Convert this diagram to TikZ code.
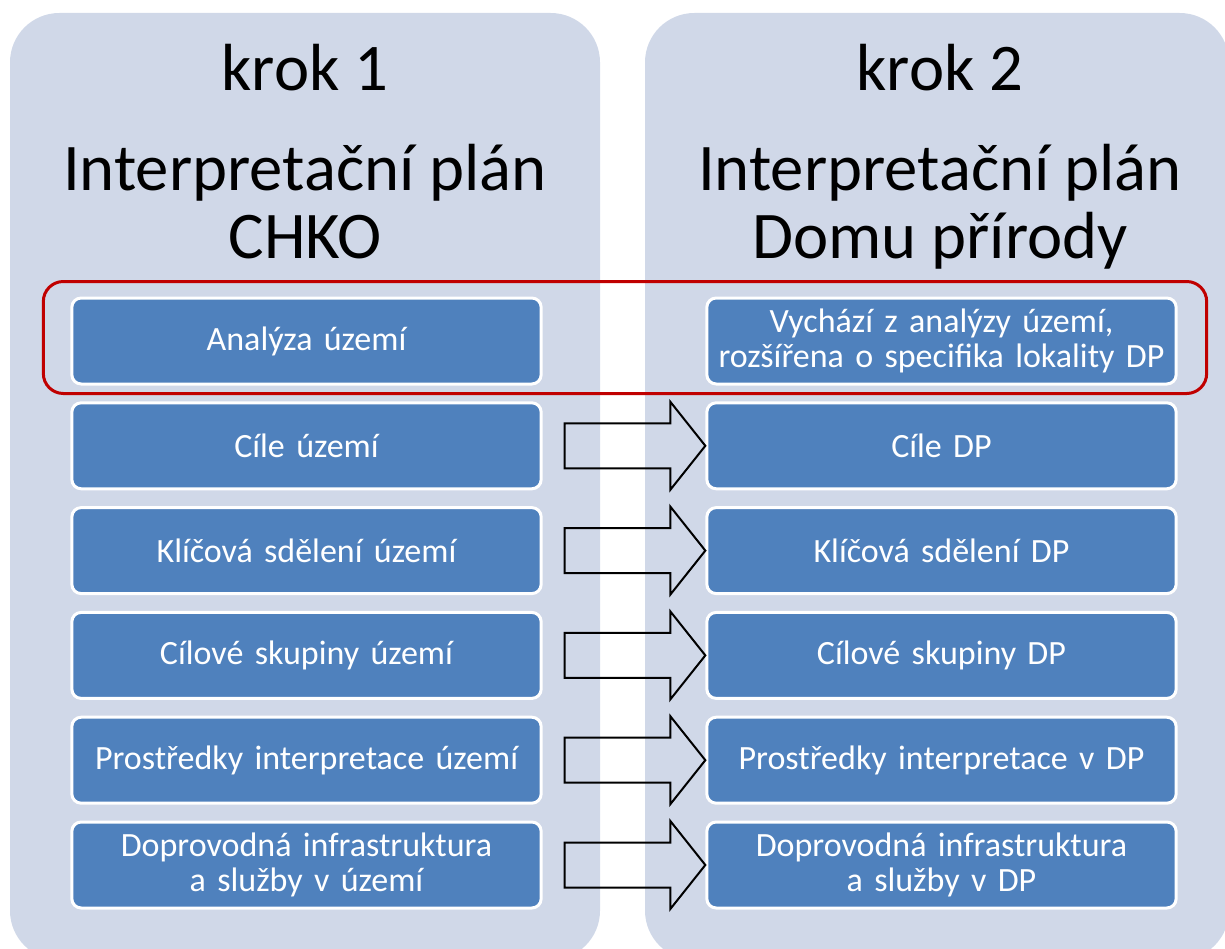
\documentclass[tikz,border=0pt]{standalone}
\usepackage{fontspec}
\setmainfont{Carlito}
\usetikzlibrary{calc,positioning}
\usepackage{xcolor}
\definecolor{panelfill}{HTML}{D0D8E8}
\definecolor{boxfill}{HTML}{4F81BD}
\definecolor{markred}{HTML}{C00000}

\begin{document}
\begin{tikzpicture}[x=0.75pt, y=-0.75pt,
  panel/.style={fill=panelfill, rounded corners=37pt},
  stepbox/.style={draw=white, line width=2.25pt, fill=boxfill, rounded corners=7pt,
    minimum width=352pt, minimum height=64.5pt, text width=348pt, align=center,
    text=white, inner sep=0pt, font=\fontsize{25.5}{26.5}\selectfont},
  title/.style={anchor=base, font=\fontsize{50}{54}\selectfont},
  blockarrow/.style={draw=black, line width=1.5pt, line join=miter}]

% Row spacing and column centres (in px)
\def\rowgap{104.8}
\def\leftx{306.5}
\def\rightx{941.5}

\useasboundingbox (0,0) rectangle (1225,949);

% Background panels
\begin{scope}
  \clip (0,0) rectangle (1225,949);
  \fill[panel] (10,13) rectangle (600,960);
  \fill[panel] (645,13) rectangle (1229,960);
\end{scope}

% Titles of both steps
\foreach \x/\k/\second/\third in {305/1/Interpretační plán/CHKO, 940/2/Interpretační plán/Domu přírody} {
    \node[title] (K\k) at (\x,90) {krok \k};
    \node[title] (P\k) at (\x,190) {\second};
    \node[title] (Q\k) at (\x,258) {\third};
}

% Boxes in both columns
\foreach \i/\ltext/\rtext in {
    1/Analýza území/{Vychází z analýzy území,\\rozšířena o specifika lokality DP},
    2/Cíle území/Cíle DP,
    3/Klíčová sdělení území/Klíčová sdělení DP,
    4/Cílové skupiny území/Cílové skupiny DP,
    5/Prostředky interpretace území/Prostředky interpretace v DP,
    6/{Doprovodná infrastruktura\\a služby v území}/{Doprovodná infrastruktura\\a služby v DP}} {
    \pgfmathsetmacro{\y}{341+(\i-1)*\rowgap}
    \node[stepbox] (L\i) at (\leftx,\y) {\ltext};
    \node[stepbox] (R\i) at (\rightx,\y) {\rtext};
}

% Red frame round the first row
\draw[markred, line width=2.25pt, rounded corners=15pt]
    ($(L1.north west)+(-27,-15)$) rectangle ($(R1.south east)+(29,8)$);

% Block arrows from left boxes to right boxes
\foreach \i in {2,...,6} {
    \draw[blockarrow]
        ($(L\i.east)+(22,-22.5)$) -- ($(R\i.west)+(-35,-22.5)$) -- ($(R\i.west)+(-35,-44)$)
        -- (R\i.west)
        -- ($(R\i.west)+(-35,44)$) -- ($(R\i.west)+(-35,22.5)$) -- ($(L\i.east)+(22,22.5)$) -- cycle;
}
\end{tikzpicture}
\end{document}
